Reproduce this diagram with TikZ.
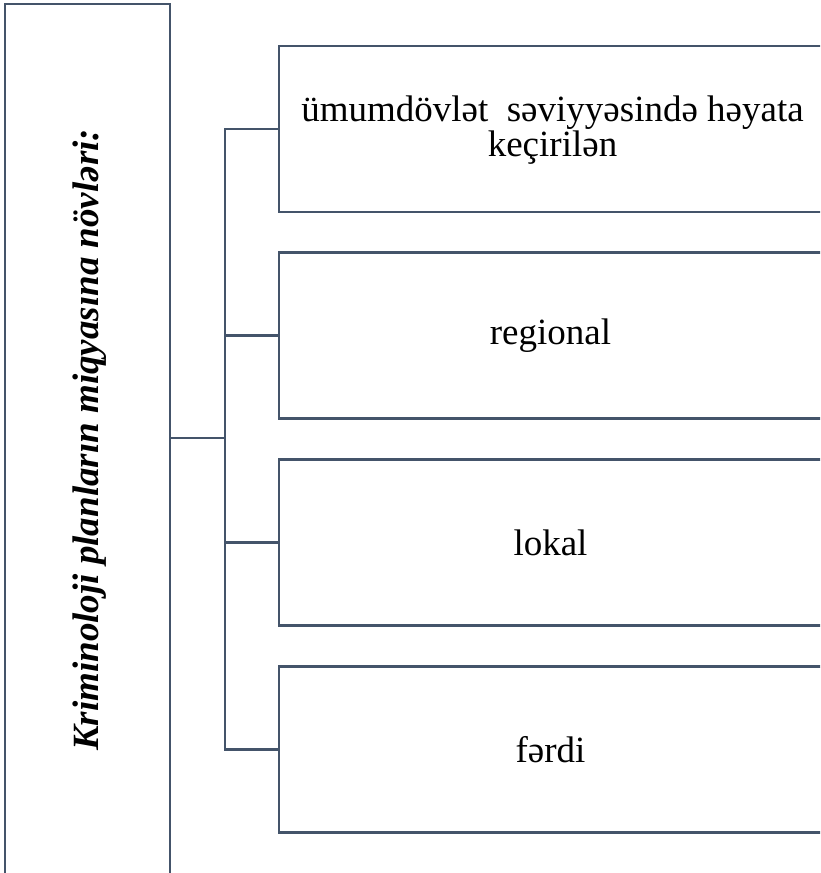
\documentclass[tikz,border=0pt]{standalone}
\usepackage{fontspec}
\setmainfont{Liberation Serif}
\definecolor{slate}{HTML}{44546A}
\newcommand{\tightlines}{\setlength{\lineskiplimit}{-30pt}\setlength{\lineskip}{0pt}}
\begin{document}
\begin{tikzpicture}[x=0.75pt,y=-0.75pt,
  conn/.style={draw=slate,line width=1.6pt},
  lbox/.style={conn,minimum width=123.75pt,minimum height=654pt,inner sep=0pt},
  rbox/.style={conn,minimum width=407.25pt,minimum height=124.5pt,inner sep=0pt,
    font=\fontsize{27.75}{26.25}\selectfont},
  rtext/.style={inner sep=0pt,align=center,
    font=\fontsize{27.75}{26.25}\selectfont\tightlines},
  ltext/.style={inner sep=0pt,rotate=90,font=\fontsize{27.75}{33}\selectfont\bfseries\itshape}]
\clip (0,0) rectangle (820,873);
\node[lbox] (L) at (87.5,440) {};
\node[ltext] (Lt) at (89.6,440) {Kriminoloji planların miqyasına növləri:};
\node[rbox] (b1) at (550.5,129) {};
\node[rtext] (t1) at (552.5,130) {ümumdövlət\ \ səviyyəsində həyata\\keçirilən};
\node[rbox] (b2) at (550.5,335.5) {regional};
\node[rbox] (b3) at (550.5,542.5) {lokal};
\node[rbox] (b4) at (550.5,749.5) {fərdi};
\coordinate (hub) at (225,438);
\draw[conn] (L.east |- hub) -- (hub);
\draw[conn] (hub) |- (b1.west);
\draw[conn] (hub) |- (b2.west);
\draw[conn] (hub) |- (b3.west);
\draw[conn] (hub) |- (b4.west);
\end{tikzpicture}
\end{document}
